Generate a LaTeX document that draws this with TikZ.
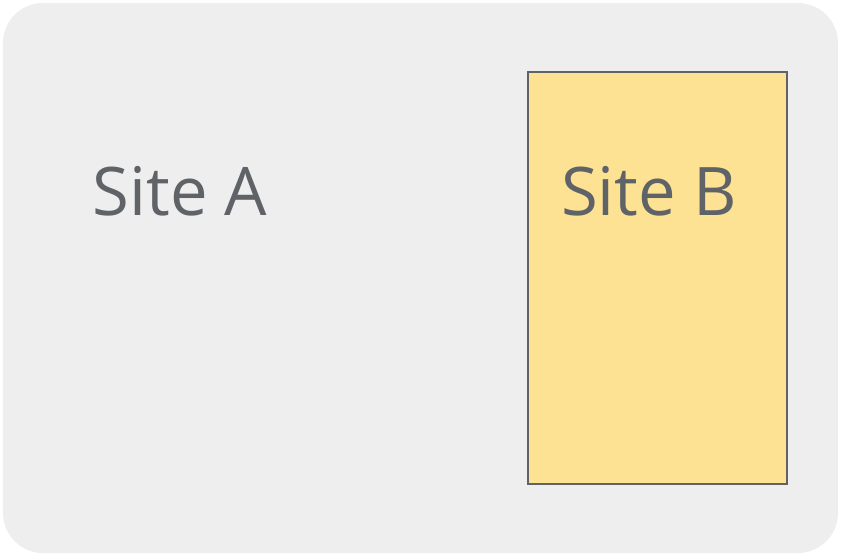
\documentclass[tikz,border=0pt]{standalone}
\usepackage{fontspec}
\setmainfont{Open Sans}
\usepackage{tikz}
\definecolor{siteGray}{HTML}{EEEEEE}
\definecolor{siteYellow}{HTML}{FDE293}
\definecolor{labelGray}{HTML}{5F6368}
\tikzset{
    sitelabel/.style={text=labelGray,font=\fontsize{67}{80}\selectfont,inner sep=0pt,anchor=base}
}
\begin{document}
\begin{tikzpicture}[x=1pt,y=-1pt]
                \useasboundingbox (0,0) rectangle (842,558);
                \fill[siteGray,rounded corners=40pt]
                    (3,3) rectangle (838,553);
                \draw[fill=siteYellow,draw=labelGray,line width=1.3pt]
                    (528,72) rectangle (787,484);
                \node[sitelabel] (siteA) at (180,215) {Site A};
                \node[sitelabel] (siteB) at (649,215) {Site B};
            \end{tikzpicture}
\end{document}
